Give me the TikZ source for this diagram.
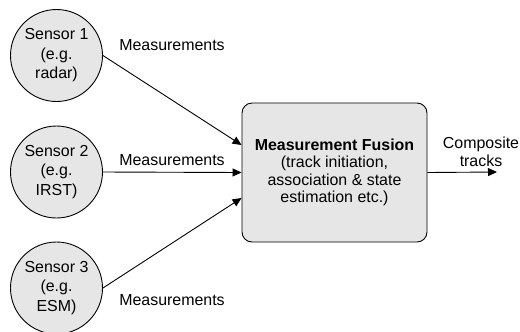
\documentclass[tikz,border=0pt]{standalone}
\usepackage{fontspec}
\setmainfont{Liberation Sans}
\usetikzlibrary{arrows.meta}
\definecolor{shade}{RGB}{230,230,230}
\begin{document}
\begin{tikzpicture}[x=1bp,y=-1bp,
  font=\fontsize{16}{19}\selectfont,
  sensor/.style={circle,draw=black,line width=0.9bp,fill=shade,minimum size=92bp,inner sep=0pt,align=center,font=\fontsize{16}{19.5}\selectfont},
  fusionbox/.style={draw=black,line width=0.9bp,fill=shade,rounded corners=10bp,minimum width=185bp,minimum height=139bp,inner sep=0pt,align=center,font=\fontsize{16}{17.5}\selectfont},
  lbl/.style={inner sep=0pt,align=center},
  flow/.style={line width=0.9bp,-{Triangle[length=9bp,width=8bp]}}
]
\useasboundingbox (0,0) rectangle (520,331);
\clip (0,0) rectangle (520,331);

% sensors
\node[sensor] (s1) at (56.5,55.5) {Sensor 1\\(e.g.\\radar)};
\node[sensor] (s2) at (56.5,172) {Sensor 2\\(e.g.\\IRST)};
\node[sensor] (s3) at (56.5,288) {Sensor 3\\(e.g.\\ESM)};

% fusion block
\node[fusionbox] (fusion) at (334.5,172.5) {\textbf{Measurement Fusion}\\(track initiation,\\association \& state\\estimation etc.)};

% measurement labels
\node[lbl] (m1) at (172,45) {Measurements};
\node[lbl] (m2) at (172,160) {Measurements};
\node[lbl] (m3) at (172,300) {Measurements};

% output
\coordinate (out) at (497,172);
\node[lbl,font=\fontsize{16}{17.5}\selectfont] (ct) at (481,152) {Composite\\tracks};

% connectors
\draw[flow] (s1.east) -- (fusion.west |- 0,145);
\draw[flow] (s2.east) -- (fusion.west);
\draw[flow] (s3.east) -- (fusion.west |- 0,198);
\draw[flow] (fusion.east) -- (out);
\end{tikzpicture}
\end{document}
